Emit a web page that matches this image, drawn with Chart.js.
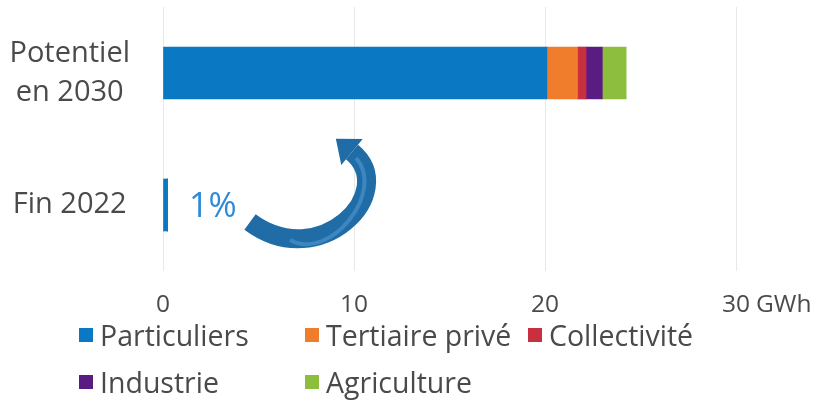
<!DOCTYPE html>
<html>
<head>
<meta charset="utf-8">
<script src="https://cdn.jsdelivr.net/npm/chart.js@4"></script>
<style>
  html, body { margin: 0; padding: 0; background: #fff; }
  #wrap { position: relative; width: 818px; height: 407px; }
  #legend { position: absolute; left: 0; top: 0; width: 818px; height: 407px; pointer-events: none;
            font-family: "Open Sans", sans-serif; font-size: 28.5px; color: #4a4a4a; }
  .item { position: absolute; display: flex; align-items: center; white-space: nowrap; }
  .item span.box { display: inline-block; width: 14px; height: 14px; margin-right: 7px; }
</style>
</head>
<body>
<div id="wrap">
  <canvas id="myChart" width="818" height="407"></canvas>
  <div id="legend"></div>
</div>
<script>
// data (GWh)
const categories = [['Potentiel', 'en 2030'], 'Fin 2022'];
const seriesNames = ['Particuliers', 'Tertiaire privé', 'Collectivité', 'Industrie', 'Agriculture'];
const particuliers = [20.1, 0.24];
const tertiaire = [1.6, 0];
const collectivite = [0.45, 0];
const industrie = [0.85, 0];
const agriculture = [1.25, 0];
const xTicks = [0, 10, 20, 30];
const shareText = '1%';
const unitText = 'GWh';

const colors = ['#0B78C4', '#F07D2C', '#C8303F', '#5A1C82', '#8DBE3E'];
const seriesValues = [particuliers, tertiaire, collectivite, industrie, agriculture];
const textColor = '#4a4a4a';
const fontFamily = '"Open Sans", sans-serif';

// unit label next to the last tick + the "1%" note and curved arrow
const notes = {
    id: 'notes',
    afterDraw(chart) {
        const ctx = chart.ctx;
        const x = chart.scales.x;
        const y = chart.scales.y;
        const x0 = x.getPixelForValue(0);
        const yFin = y.getPixelForValue(1);

        ctx.save();
        // unit
        ctx.font = '24.5px ' + fontFamily;
        ctx.fillStyle = textColor;
        ctx.textBaseline = 'middle';
        ctx.textAlign = 'left';
        ctx.fillText(unitText, x.getPixelForValue(30) + 20, x.top + 34);

        // 1%
        ctx.font = '34px ' + fontFamily;
        ctx.fillStyle = '#2D8AD6';
        ctx.fillText(shareText, x0 + 26, yFin + 2);

        // arrow
        const ox = x0, oy = yFin;
        const p0 = [ox + 87, oy + 17];
        const p1 = [ox + 157, oy + 69];
        const p2 = [ox + 237, oy - 13];
        const p3 = [ox + 189, oy - 53];
        ctx.strokeStyle = '#1F6CA6';
        ctx.lineWidth = 19;
        ctx.lineCap = 'butt';
        ctx.beginPath();
        ctx.moveTo(p0[0], p0[1]);
        ctx.bezierCurveTo(p1[0], p1[1], p2[0], p2[1], p3[0], p3[1]);
        ctx.stroke();
        // lighter inner stripe
        ctx.strokeStyle = 'rgba(90,160,220,0.5)';
        ctx.lineWidth = 4;
        ctx.beginPath();
        ctx.moveTo(p0[0] + 40, p0[1] + 18);
        ctx.bezierCurveTo(p1[0] + 10, p1[1] - 12, p2[0] - 14, p2[1], p3[0] + 4, p3[1] + 6);
        ctx.stroke();
        // head
        const d = [-0.77, -0.63], n = [0.63, -0.77];
        ctx.fillStyle = '#1F6CA6';
        ctx.beginPath();
        ctx.moveTo(p3[0] + n[0] * 17, p3[1] + n[1] * 17);
        ctx.lineTo(p3[0] + d[0] * 21, p3[1] + d[1] * 21);
        ctx.lineTo(p3[0] - n[0] * 17, p3[1] - n[1] * 17);
        ctx.closePath();
        ctx.fill();
        ctx.restore();
    }
};

const ctx = document.getElementById('myChart').getContext('2d');
const chart = new Chart(ctx, {
    type: 'bar',
    data: {
        labels: categories,
        datasets: seriesNames.map((name, i) => ({
            label: name,
            data: seriesValues[i],
            backgroundColor: colors[i],
            borderWidth: 0,
            barThickness: 52
        }))
    },
    options: {
        indexAxis: 'y',
        responsive: false,
        animation: false,
        layout: { padding: { top: 7, right: 82, left: 0, bottom: 0 } },
        plugins: {
            legend: { display: false },
            tooltip: { enabled: false }
        },
        scales: {
            x: {
                stacked: true,
                min: 0,
                max: 30,
                afterBuildTicks: (scale) => { scale.ticks = xTicks.map(v => ({ value: v })); },
                afterFit: (scale) => { scale.height = 136; scale.paddingLeft = 0; scale.paddingRight = 0; },
                grid: { color: 'rgba(0,0,0,0.09)', drawTicks: false },
                border: { display: false },
                ticks: {
                    padding: 19,
                    color: textColor,
                    font: { family: fontFamily, size: 24.5 }
                }
            },
            y: {
                stacked: true,
                afterFit: (scale) => { scale.width = 163; scale.paddingTop = 0; scale.paddingBottom = 0; },
                grid: { display: false },
                border: { display: false },
                ticks: {
                    crossAlign: 'center',
                    padding: 25,
                    color: textColor,
                    font: { family: fontFamily, size: 29, lineHeight: 1.35 }
                }
            }
        }
    },
    plugins: [notes]
});

// legend laid out in columns like the original
const legendPos = [[79, 335], [305, 335], [528, 335], [79, 382], [305, 382]];
const legendEl = document.getElementById('legend');
chart.data.datasets.forEach((ds, i) => {
    const item = document.createElement('div');
    item.className = 'item';
    item.style.left = legendPos[i][0] + 'px';
    item.style.top = (legendPos[i][1] - 20) + 'px';
    item.style.height = '40px';
    item.innerHTML = '<span class="box" style="background:' + ds.backgroundColor + '"></span>' + ds.label;
    legendEl.appendChild(item);
});
</script>
</body>
</html>
